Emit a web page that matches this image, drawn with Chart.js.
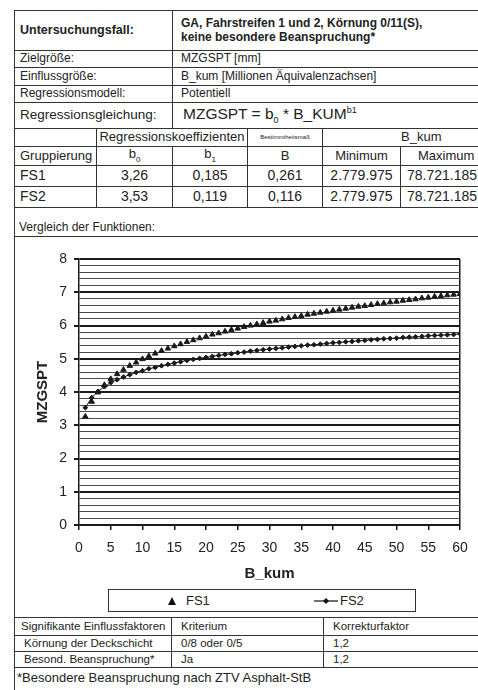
<!DOCTYPE html>
<html>
<head>
<meta charset="utf-8">
<script src="https://cdn.jsdelivr.net/npm/chart.js@4.4.1/dist/chart.umd.min.js"></script>
<style>
  html, body { margin:0; padding:0; background:#fff; }
  #page { position:relative; width:478px; height:690px; overflow:hidden; background:#fff;
          font-family:"Liberation Sans", Arial, sans-serif; color:#222; }
  table { border-collapse:collapse; position:absolute; table-layout:fixed; }
  td { border:1px solid #333; padding:0 0 0 5px; font-size:13px; line-height:1.1; white-space:nowrap; overflow:hidden; }
  .b { font-weight:bold; }
  .c { text-align:center; padding:0; }
  .num { font-size:14px; }
  .tiny { font-size:6px; text-align:center; padding:0; }
  #t1 { left:14px; top:10px; width:496px; border:1.5px solid #333; }
  #t2 { left:14px; top:617px; width:496px; border:1.5px solid #333; }
  #t2 td { font-size:11.5px; }
  #box { position:absolute; left:14px; top:207px; width:494px; height:410px;
         border-left:1.5px solid #333; border-right:1.5px solid #333; }
  #vgl { position:absolute; left:19px; top:220px; font-size:12px; }
  #vline { position:absolute; left:14px; top:236px; width:496px; height:0; border-top:1px solid #333; }
  #chartWrap { position:absolute; left:14px; top:238px; width:464px; height:350px; }
  #legend { position:absolute; left:108px; top:589px; width:306px; height:21px; border:1px solid #333;
            font-size:13px; }
  .li { position:absolute; top:3px; display:flex; align-items:center; height:15px; }
</style>
</head>
<body>
<div id="page">
  <table id="t1">
    <colgroup>
      <col style="width:82px"><col style="width:76px"><col style="width:75px">
      <col style="width:75px"><col style="width:78px"><col style="width:110px">
    </colgroup>
    <tr style="height:40px">
      <td colspan="2" class="b" style="font-size:12.5px">Untersuchungsfall:</td>
      <td colspan="4" class="b" style="font-size:12px;padding-left:8px">GA, Fahrstreifen 1 und 2, Körnung 0/11(S),<br>keine besondere Beanspruchung*</td>
    </tr>
    <tr style="height:17px"><td colspan="2" style="font-size:12px">Zielgröße:</td><td colspan="4" style="font-size:12px;padding-left:8px">MZGSPT [mm]</td></tr>
    <tr style="height:18px"><td colspan="2" style="font-size:12px">Einflussgröße:</td><td colspan="4" style="font-size:12px;padding-left:8px">B_kum [Millionen Äquivalenzachsen]</td></tr>
    <tr style="height:17px"><td colspan="2" style="font-size:12px">Regressionsmodell:</td><td colspan="4" style="font-size:12px;padding-left:8px">Potentiell</td></tr>
    <tr style="height:26px"><td colspan="2" style="font-size:13.5px">Regressionsgleichung:</td>
      <td colspan="4" style="font-size:15.5px;padding-left:10px">MZGSPT = b<sub style="font-size:9px">0</sub> * B_KUM<sup style="font-size:9px">b1</sup></td></tr>
    <tr style="height:18px"><td></td><td colspan="2" class="c">Regressionskoeffizienten</td><td class="tiny">Bestimmtheitsmaß</td><td colspan="2" class="c" style="text-align:left;padding-left:78px">B_kum</td></tr>
    <tr style="height:19px"><td style="padding-left:5px">Gruppierung</td><td class="c">b<sub style="font-size:8px">0</sub></td><td class="c">b<sub style="font-size:8px">1</sub></td><td class="c">B</td><td class="c">Minimum</td><td class="c" style="text-align:left;padding-left:17px">Maximum</td></tr>
    <tr style="height:21px"><td class="num">FS1</td><td class="c num">3,26</td><td class="c num">0,185</td><td class="c num">0,261</td><td class="c num">2.779.975</td><td class="num" style="padding-left:6px">78.721.185</td></tr>
    <tr style="height:21px"><td class="num">FS2</td><td class="c num">3,53</td><td class="c num">0,119</td><td class="c num">0,116</td><td class="c num">2.779.975</td><td class="num" style="padding-left:6px">78.721.185</td></tr>
  </table>

  <div id="box"></div>
  <div id="vgl">Vergleich der Funktionen:</div>
  <div id="vline"></div>

  <div id="chartWrap"><canvas id="chart" width="464" height="350"></canvas></div>

  <div id="legend">
    <div class="li" style="left:58px">
      <svg width="10" height="10"><polygon points="5,1 9,9 1,9" fill="#111"/></svg>
      <span style="margin-left:9px">FS1</span>
    </div>
    <div class="li" style="left:205px">
      <svg width="24" height="10"><line x1="0" y1="5" x2="24" y2="5" stroke="#111" stroke-width="1.2"/><polygon points="12,2 15,5 12,8 9,5" fill="#111"/></svg>
      <span style="margin-left:2px">FS2</span>
    </div>
  </div>

  <table id="t2">
    <colgroup><col style="width:157px"><col style="width:152px"><col style="width:187px"></colgroup>
    <tr style="height:18px"><td style="padding-left:6px">Signifikante Einflussfaktoren</td><td style="padding-left:9px">Kriterium</td><td style="padding-left:9px">Korrekturfaktor</td></tr>
    <tr style="height:16px"><td style="padding-left:9px">Körnung der Deckschicht</td><td style="padding-left:9px">0/8 oder 0/5</td><td style="padding-left:9px">1,2</td></tr>
    <tr style="height:16px"><td style="padding-left:9px">Besond. Beanspruchung*</td><td style="padding-left:9px">Ja</td><td style="padding-left:9px">1,2</td></tr>
    <tr style="height:24px"><td colspan="3" style="font-size:13px;padding-left:2px;vertical-align:top;padding-top:3px">*Besondere Beanspruchung nach ZTV Asphalt-StB</td></tr>
  </table>
</div>

<script>
// ---- data ----
const seriesNames = ['FS1', 'FS2'];
const xValues = [1,2,3,4,5,6,7,8,9,10,11,12,13,14,15,16,17,18,19,20,
                 21,22,23,24,25,26,27,28,29,30,31,32,33,34,35,36,37,38,39,40,
                 41,42,43,44,45,46,47,48,49,50,51,52,53,54,55,56,57,58,59,60];
const fs1Values = [3.26,3.71,3.99,4.21,4.39,4.54,4.67,4.79,4.89,4.99,
                   5.08,5.16,5.24,5.31,5.38,5.44,5.51,5.56,5.62,5.67,
                   5.73,5.77,5.82,5.87,5.91,5.96,6.00,6.04,6.08,6.12,
                   6.15,6.19,6.23,6.26,6.29,6.33,6.36,6.39,6.42,6.45,
                   6.48,6.51,6.54,6.57,6.59,6.62,6.65,6.67,6.70,6.72,
                   6.75,6.77,6.79,6.82,6.84,6.87,6.89,6.91,6.93,6.95];
const fs2Values = [3.53,3.83,4.02,4.16,4.28,4.37,4.45,4.52,4.59,4.64,
                   4.70,4.74,4.79,4.83,4.87,4.91,4.95,4.98,5.01,5.04,
                   5.07,5.10,5.13,5.15,5.18,5.20,5.23,5.25,5.27,5.29,
                   5.31,5.33,5.35,5.37,5.39,5.41,5.42,5.44,5.46,5.48,
                   5.49,5.51,5.52,5.54,5.55,5.57,5.58,5.60,5.61,5.62,
                   5.64,5.65,5.66,5.67,5.69,5.70,5.71,5.72,5.73,5.75];
const xTickLabels = ['0','5','10','15','20','25','30','35','40','45','50','55','60'];
const yTickLabels = ['0','1','2','3','4','5','6','7','8'];
const xTitle = 'B_kum';
const yTitle = 'MZGSPT';

const isMajor = v => Math.abs(v - Math.round(v)) < 1e-6;
const FONT = '"Liberation Sans", Arial, sans-serif';
const INK = '#1a1a1a';

new Chart(document.getElementById('chart'), {
  type: 'scatter',
  data: {
    datasets: [
      {
        label: seriesNames[0],
        data: xValues.map((x, i) => ({ x: x, y: fs1Values[i] })),
        showLine: false,
        pointStyle: 'triangle',
        pointRadius: 3.2,
        backgroundColor: INK,
        borderColor: INK,
        borderWidth: 1
      },
      {
        label: seriesNames[1],
        data: xValues.map((x, i) => ({ x: x, y: fs2Values[i] })),
        showLine: true,
        pointStyle: 'rectRot',
        pointRadius: 2.4,
        backgroundColor: INK,
        borderColor: INK,
        borderWidth: 1
      }
    ]
  },
  options: {
    responsive: false,
    animation: false,
    devicePixelRatio: 1,
    layout: { padding: { top: 21, right: 18, bottom: 5, left: 0 } },
    plugins: { legend: { display: false }, tooltip: { enabled: false } },
    scales: {
      x: {
        type: 'linear', min: 0, max: 60,
        afterFit: s => { s.height = 58; s.paddingLeft = 0; s.paddingRight = 0; },
        ticks: {
          stepSize: 5, padding: 10, color: '#222', autoSkip: false, maxRotation: 0,
          font: { family: FONT, size: 14 },
          callback: v => xTickLabels.includes(String(v)) ? String(v) : ''
        },
        grid: {
          drawTicks: true, tickLength: 5, tickColor: INK, tickWidth: 1.5,
          color: c => (c.tick && c.tick.value === 60) ? INK : 'rgba(0,0,0,0)',
          lineWidth: 1.5
        },
        border: { display: true, color: INK, width: 1.5 },
        title: { display: true, text: xTitle, color: '#222', padding: { top: 0, bottom: 0 },
                 font: { family: FONT, size: 15, weight: 'bold', lineHeight: 1.2 } }
      },
      y: {
        type: 'linear', min: 0, max: 8,
        afterFit: s => { s.width = 65; s.paddingTop = 0; s.paddingBottom = 0; },
        ticks: {
          stepSize: 0.2, padding: 7, color: '#222', autoSkip: false,
          font: { family: FONT, size: 14 },
          callback: v => (isMajor(v) && yTickLabels.includes(String(Math.round(v)))) ? String(Math.round(v)) : ''
        },
        grid: {
          drawTicks: true, tickLength: 5,
          tickColor: c => (c.tick && isMajor(c.tick.value)) ? INK : 'rgba(0,0,0,0)',
          color: c => (c.tick && isMajor(c.tick.value)) ? INK : '#4a4a4a',
          lineWidth: c => (c.tick && isMajor(c.tick.value)) ? 2 : 1
        },
        border: { display: true, color: INK, width: 1.5 },
        title: { display: true, text: yTitle, color: '#222', padding: { top: 20, bottom: 0 },
                 font: { family: FONT, size: 15, weight: 'bold', lineHeight: 1.2 } }
      }
    }
  }
});
</script>
</body>
</html>
